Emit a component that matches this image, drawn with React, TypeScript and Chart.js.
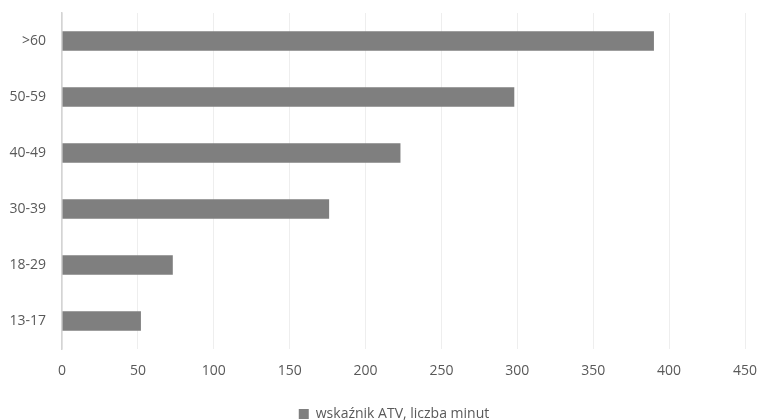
import { useEffect, useRef } from 'react';
import { Chart, registerables } from 'chart.js';

Chart.register(...registerables);

const categories = ['>60', '50-59', '40-49', '30-39', '18-29', '13-17'];
const values = [390, 298, 223, 176, 73, 52];
const seriesLabel = 'wskaźnik ATV, liczba minut';
const xMin = 0;
const xMax = 450;
const xStep = 50;

const FONT = '"Open Sans", "Liberation Sans", sans-serif';

const shiftLegend = {
  id: 'shiftLegend',
  afterLayout(chart: any) {
    if (chart.legend) {
      chart.legend.left = 43;
    }
  },
};

export default function App() {
  const ref = useRef<HTMLCanvasElement>(null);
  useEffect(() => {
    document.body.style.margin = '0';
    const chart = new Chart(ref.current!, {
      type: 'bar',
      data: {
        labels: categories,
        datasets: [
          {
            label: seriesLabel,
            data: values,
            backgroundColor: '#7f7f7f',
            borderWidth: 0,
            barPercentage: 0.35,
            categoryPercentage: 1,
          },
        ],
      },
      plugins: [shiftLegend],
      options: {
        indexAxis: 'y',
        animation: false,
        responsive: false,
        layout: { autoPadding: false, padding: { top: 13, right: 15, left: 0, bottom: 0 } },
        plugins: {
          legend: {
            position: 'bottom',
            maxHeight: 25,
            labels: {
              boxWidth: 10,
              boxHeight: 10,
              padding: 12,
              color: '#595959',
              font: { family: FONT, size: 14 },
            },
          },
          tooltip: { enabled: false },
        },
        scales: {
          x: {
            min: xMin,
            max: xMax,
            ticks: {
              stepSize: xStep,
              color: '#595959',
              font: { family: FONT, size: 14 },
              padding: 14,
            },
            grid: { color: '#eeeeee', drawTicks: false },
            border: { display: false },
            afterFit: (s: any) => {
              s.height = 46;
              s.paddingLeft = 0;
              s.paddingRight = 0;
            },
          },
          y: {
            grid: { display: false, drawTicks: false },
            border: { display: true, color: '#d4d4d4', width: 1.5 },
            ticks: {
              color: '#595959',
              font: { family: FONT, size: 14 },
              padding: 16,
            },
            afterFit: (s: any) => {
              s.width = 62;
              s.paddingTop = 0;
              s.paddingBottom = 0;
            },
          },
        },
      },
    });
    return () => chart.destroy();
  }, []);
  return <canvas ref={ref} width={760} height={420} style={{ display: 'block' }} />;
}
